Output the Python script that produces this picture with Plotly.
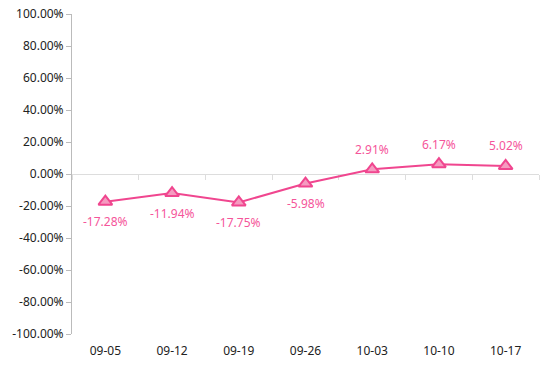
import plotly.graph_objects as go

categories = ["09-05", "09-12", "09-19", "09-26", "10-03", "10-10", "10-17"]
values = [-17.28, -11.94, -17.75, -5.98, 2.91, 6.17, 5.02]
y_ticks = [100, 80, 60, 40, 20, 0, -20, -40, -60, -80, -100]
y_tick_labels = ["%.2f%%" % v for v in y_ticks]
point_labels = ["%.2f%%" % v for v in values]

FONT = "Segoe UI, Noto Sans, DejaVu Sans, sans-serif"
PINK = "#f0468f"

fig = go.Figure()
fig.add_trace(go.Scatter(
    x=categories, y=values,
    mode="lines+markers",
    line=dict(color=PINK, width=2),
    marker=dict(symbol="triangle-up", size=12, color="#f59bc0",
                line=dict(color=PINK, width=2)),
    showlegend=False,
))
# bottom category labels on an overlaying axis
fig.add_trace(go.Scatter(x=categories, y=[None]*len(categories), xaxis="x2",
                         showlegend=False, hoverinfo="skip"))

for c, v, t in zip(categories, values, point_labels):
    fig.add_annotation(x=c, y=v, text=t, showarrow=False,
                       yshift=20 if v >= 0 else -20,
                       font=dict(color="#f5559a", size=12, family=FONT))

fig.update_layout(
    width=554, height=376,
    margin=dict(l=72, r=15, t=14, b=42),
    plot_bgcolor="white", paper_bgcolor="white",
    font=dict(family=FONT, size=12, color="#222"),
    xaxis=dict(type="category", anchor="free", position=0.5, automargin=False,
               layer="below traces",
               showline=True, linecolor="#dddddd", linewidth=1,
               ticks="outside", ticklen=5, tickcolor="#dddddd", tickson="boundaries",
               showticklabels=False, showgrid=False, range=[-0.5, 6.5],
               categoryarray=categories, categoryorder="array"),
    xaxis2=dict(type="category", overlaying="x", anchor="y", side="bottom",
                automargin=False, showline=False, showgrid=False, ticks="",
                ticklabelstandoff=8,
                tickfont=dict(size=12, color="#222"), range=[-0.5, 6.5],
                categoryarray=categories, categoryorder="array"),
    yaxis=dict(range=[-100, 100], tickvals=y_ticks, ticktext=y_tick_labels,
               automargin=False, ticklabeloverflow="allow",
               showline=True, linecolor="#bbbbbb", linewidth=1,
               ticks="outside", ticklen=5, tickcolor="#bbbbbb",
               showgrid=False, zeroline=False,
               tickfont=dict(size=12, color="#222")),
)

fig.write_html("out.html", config={"displayModeBar": False},
               post_script="document.body.style.margin='0';")
